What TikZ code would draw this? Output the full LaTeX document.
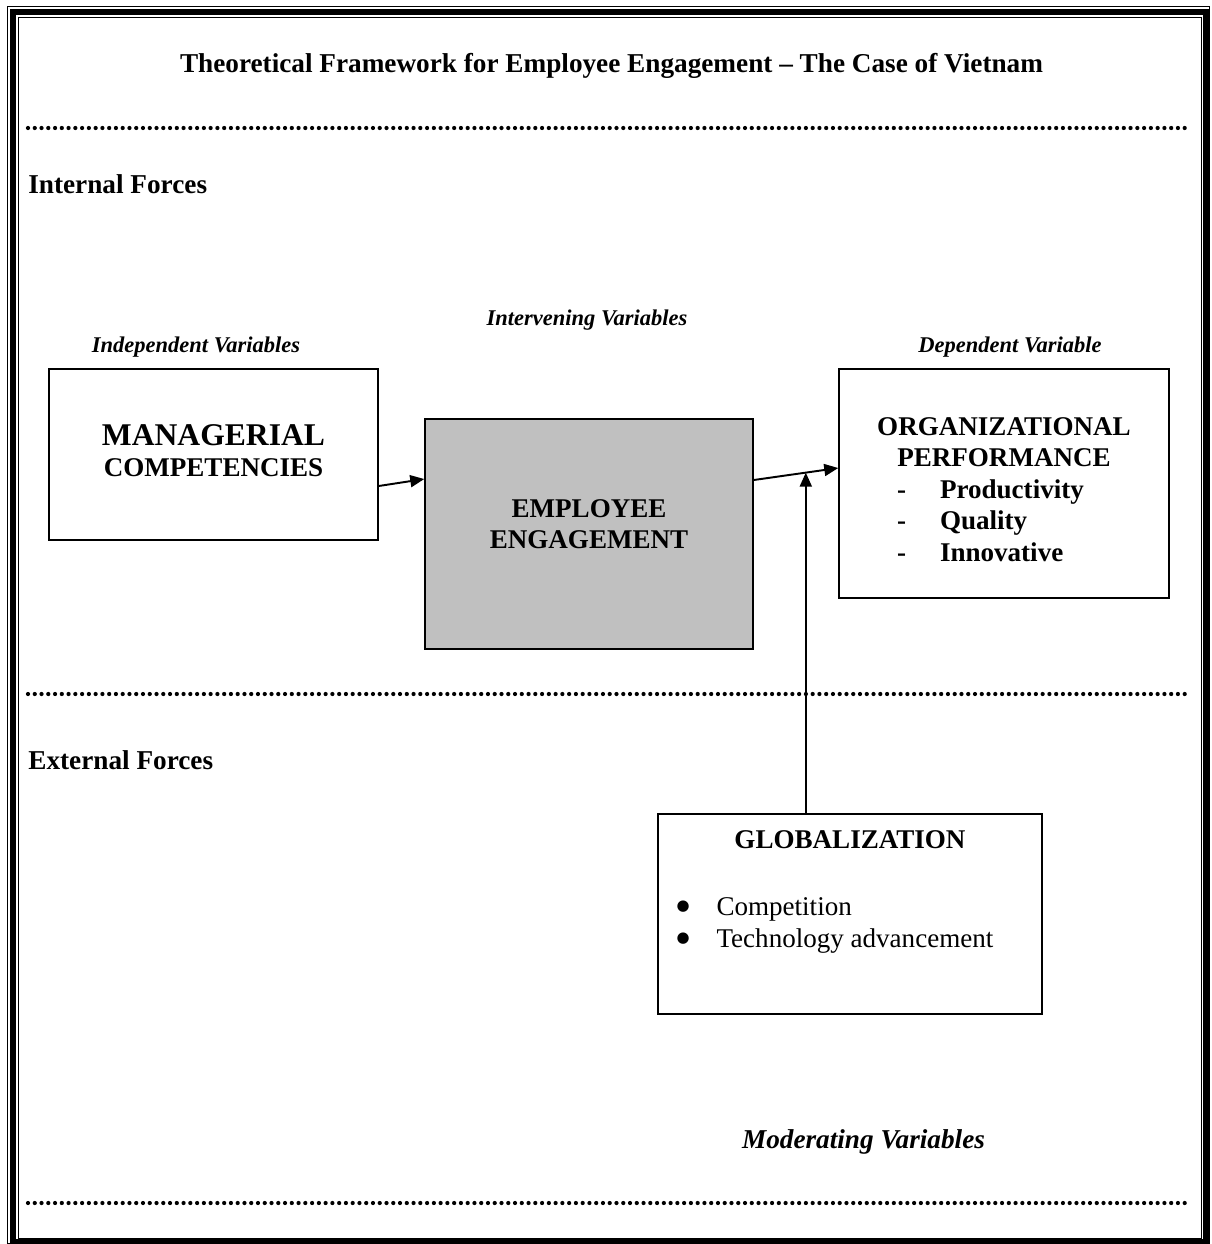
\documentclass[tikz,border=0pt]{standalone}
\usepackage{fontspec}
\setmainfont{Liberation Serif}
\newfontfamily\bulletfont{DejaVu Sans}
\usetikzlibrary{arrows.meta}
\definecolor{eegray}{HTML}{C0C0C0}
\newcommand{\bigdot}{\makebox[0.8cm][l]{\raisebox{2.8pt}{\bulletfont\fontsize{8.5}{8.5}\selectfont ●}}}
\tikzset{
    box/.style={draw, line width=0.9pt, rectangle, align=center, inner sep=0pt, font=\fontsize{15.4}{18}\selectfont\bfseries},
    arrow/.style={line width=1.1pt, -{Triangle[length=0.28cm, width=0.24cm]}},
    dots/.style={line width=2.4pt, line cap=round, dash pattern=on 0pt off 3.85pt},
    heading/.style={inner sep=0pt, font=\fontsize{15.5}{18}\selectfont\bfseries},
    varlabel/.style={inner sep=0pt, font=\fontsize{12.8}{15}\selectfont\bfseries\itshape}
}

\begin{document}
\begin{tikzpicture}[x=0.02cm, y=-0.02cm]
\useasboundingbox (0,0) rectangle (1211,1244);
% page border
\draw[line width=0.02cm] (7.5,6.5) rectangle (1209.5,1243.5);
\draw[line width=0.12cm] (13,12) rectangle (1205.5,1241.5);
\draw[line width=0.02cm] (18,17) rectangle (1201,1238);

% title and separators
\node[heading, anchor=base] (title) at (611.5,72) {Theoretical Framework for Employee Engagement – The Case of Vietnam};
\draw[dots] (28,128) -- (1190,128);
\draw[dots] (28,694) -- (1190,694);
\draw[dots] (28,1203) -- (1190,1203);
\node[heading, anchor=base west] (internal) at (28,193) {Internal Forces};
\node[heading, anchor=base west] (external) at (28,769) {External Forces};

% variable labels
\node[varlabel, anchor=base] (intervening) at (587,325.5) {Intervening Variables};
\node[varlabel, anchor=base] (independent) at (196,352) {Independent Variables};
\node[varlabel, anchor=base] (dependent) at (1010,352) {Dependent Variable};
\node[heading, font=\fontsize{15.5}{18}\selectfont\bfseries\itshape, anchor=base] (moderating) at (863.5,1148) {Moderating Variables};

% boxes
\node[box, minimum width=6.58cm, minimum height=3.42cm] (mc) at (213.5,454.5) {{\fontsize{18}{21}\selectfont MANAGERIAL}\\COMPETENCIES\rule[-0.16cm]{0pt}{0pt}};
\node[box, fill=eegray, minimum width=6.56cm, minimum height=4.6cm] (ee) at (589,534) {EMPLOYEE\\ENGAGEMENT\rule[-0.4cm]{0pt}{0pt}};
\node[box, minimum width=6.6cm, minimum height=4.58cm] (op) at (1004,483.5) {\rule{0pt}{0.6cm}ORGANIZATIONAL\\PERFORMANCE\\
    \makebox[4.28cm][l]{-\hspace{0.68cm}Productivity}\\
    \makebox[4.28cm][l]{-\hspace{0.68cm}Quality}\\
    \makebox[4.28cm][l]{-\hspace{0.68cm}Innovative}};
\node[box, minimum width=7.68cm, minimum height=4cm] (glob) at (850,914) {\parbox[c][4cm][t]{7.68cm}{%
    \vspace*{9.5pt}\centering GLOBALIZATION\par\vspace{20pt}
    \raggedright\mdseries
    \hspace*{0.37cm}\bigdot Competition\par
    \hspace*{0.37cm}\bigdot Technology advancement\par}};

% arrows
\draw[arrow] ([yshift=-0.63cm]mc.east) -- ([yshift=1.1cm]ee.west);
\draw[arrow] ([yshift=1.08cm]ee.east) -- coordinate[pos=0.616] (meet) ([yshift=0.31cm]op.west);
\draw[arrow] (glob.north -| meet) -- (meet);
\end{tikzpicture}
\end{document}
